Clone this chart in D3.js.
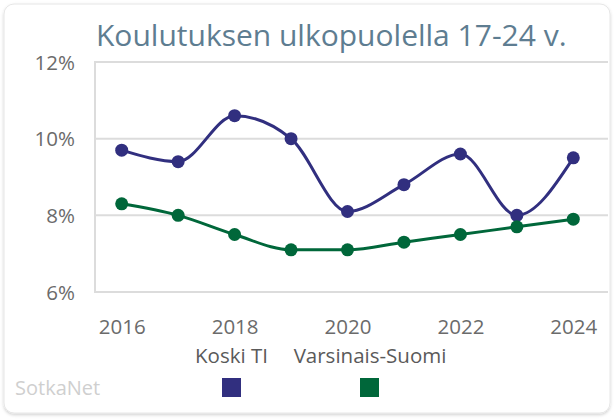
<!DOCTYPE html>
<html><head><meta charset="utf-8">
<script src="https://cdn.jsdelivr.net/npm/d3@7"></script>
<style>
html,body{margin:0;padding:0;background:#fff;}
svg{display:block;font-family:"Open Sans",sans-serif;}
</style></head>
<body><svg id="c" width="614" height="419"></svg>
<script>
const years = [2016,2017,2018,2019,2020,2021,2022,2023,2024];
const koski = [9.7,9.4,10.6,10.0,8.1,8.8,9.6,8.0,9.5];
const varsinais = [8.3,8.0,7.5,7.1,7.1,7.3,7.5,7.7,7.9];
const seriesNames = ["Koski TI","Varsinais-Suomi"];
const seriesColors = ["#312f7f","#00673a"];
const yTicks = [6,8,10,12];
const xTicks = [2016,2018,2020,2022,2024];
const title = "Koulutuksen ulkopuolella 17-24 v.";

const svg = d3.select("#c");
const defs = svg.append("defs");
const f = defs.append("filter").attr("id","sh").attr("x","-5%").attr("y","-5%").attr("width","110%").attr("height","115%");
f.append("feDropShadow").attr("dx",0).attr("dy",1.5).attr("stdDeviation",1.5).attr("flood-color","#000").attr("flood-opacity",0.18);

svg.append("rect").attr("x",4).attr("y",4).attr("width",606).attr("height",409).attr("rx",10)
  .attr("fill","#fff").attr("stroke","#e6e6e6").attr("stroke-width",1).attr("filter","url(#sh)");

svg.append("text").attr("x",96).attr("y",46).attr("font-size",30).attr("fill","#5e7d91").text(title);

const x = d3.scaleLinear().domain([2016,2024]).range([121.7,573.3]);
const y = d3.scaleLinear().domain([6,12]).range([292,62]);
const left = 95, right = 608;
const fs = 20.5;

// grid
svg.append("g").selectAll("line").data(yTicks).join("line")
  .attr("x1",left).attr("x2",right).attr("y1",d=>y(d)).attr("y2",d=>y(d))
  .attr("stroke","#dcdcdc").attr("stroke-width",2);
svg.append("line").attr("x1",left).attr("x2",left).attr("y1",y(12)-1).attr("y2",y(6)+1)
  .attr("stroke","#dcdcdc").attr("stroke-width",2);

// y axis labels
const yAxis = d3.axisLeft(y).tickValues(yTicks).tickFormat(d=>d+"%").tickSize(0).tickPadding(0);
const gy = svg.append("g").attr("transform","translate(75,0)").call(yAxis);
gy.select(".domain").remove();
gy.selectAll("text").attr("font-size",fs).attr("fill","#6b6b6b").attr("font-family","Open Sans, sans-serif").attr("dy","0.35em");

// x axis labels
const xAxis = d3.axisBottom(x).tickValues(xTicks).tickFormat(d3.format("d")).tickSize(0).tickPadding(0);
const gx = svg.append("g").attr("transform","translate(0,327)").call(xAxis);
gx.select(".domain").remove();
gx.selectAll("text").attr("font-size",fs).attr("fill","#6b6b6b").attr("font-family","Open Sans, sans-serif").attr("y",0).attr("dy","0.35em");

const line = d3.line().x((d,i)=>x(years[i])).y(d=>y(d)).curve(d3.curveMonotoneX);
[koski,varsinais].forEach((s,k)=>{
  svg.append("path").attr("d",line(s)).attr("fill","none").attr("stroke",seriesColors[k]).attr("stroke-width",3);
  svg.append("g").selectAll("circle").data(s).join("circle")
    .attr("cx",(d,i)=>x(years[i])).attr("cy",d=>y(d)).attr("r",6.5).attr("fill",seriesColors[k]);
});

// legend
const legX = [231.5,370];
const sqX = [231.5,369.5];
seriesNames.forEach((n,k)=>{
  svg.append("text").attr("x",legX[k]).attr("y",356).attr("dy","0.35em").attr("text-anchor","middle")
    .attr("font-size",fs).attr("fill","#5a5a5a").text(n);
  svg.append("rect").attr("x",sqX[k]-9.5).attr("y",378).attr("width",19).attr("height",19).attr("fill",seriesColors[k]);
});

svg.append("text").attr("x",15).attr("y",388).attr("dy","0.35em").attr("font-size",20).attr("fill","#cfcfcf").text("SotkaNet");
</script></body></html>
